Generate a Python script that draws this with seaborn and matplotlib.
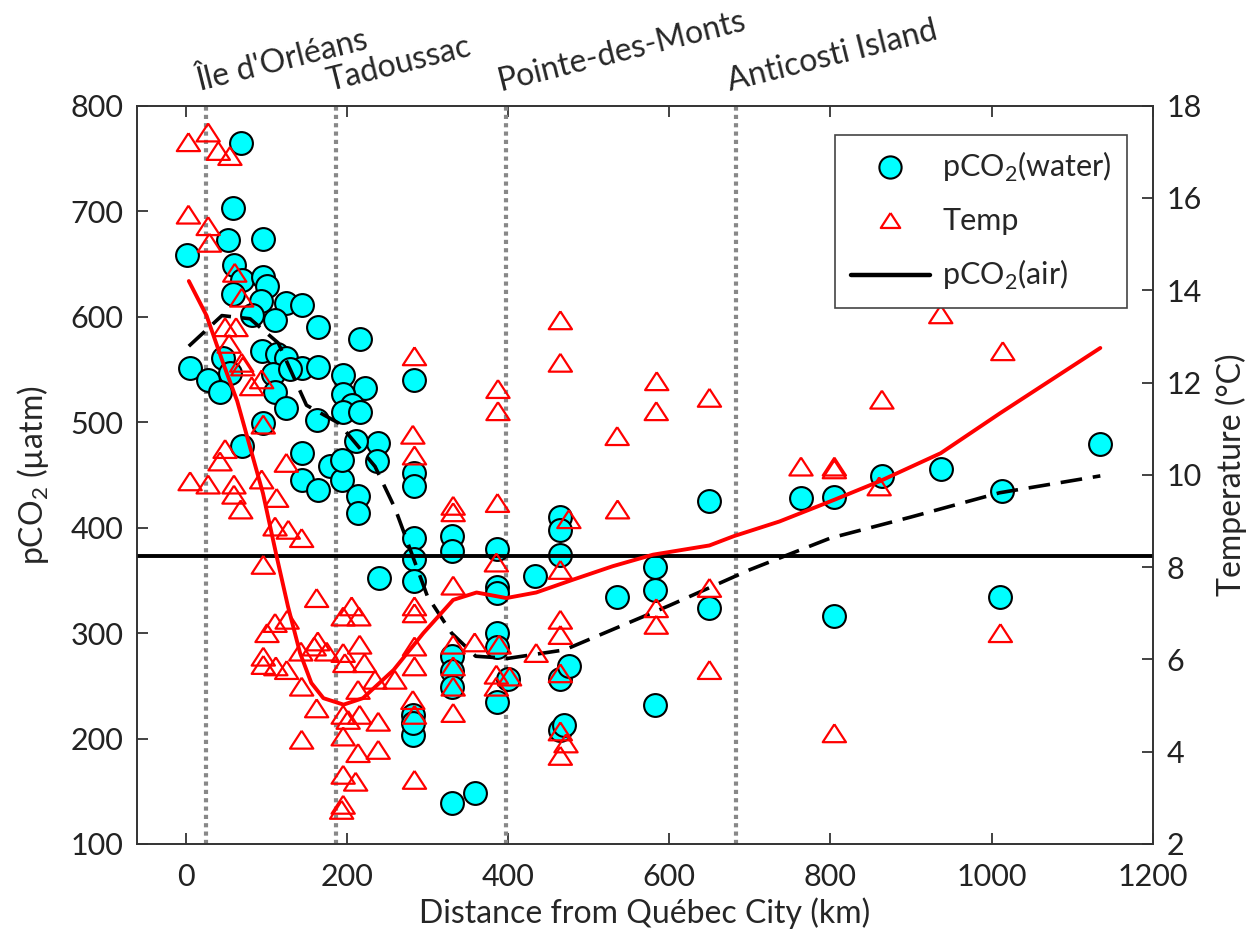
import numpy as np
import pandas as pd
import matplotlib.pyplot as plt
import seaborn as sns
from matplotlib.lines import Line2D

# pCO2 in surface water (circles), distance in km
water_km = [2, 5.6, 69, 59, 53, 96, 60.5, 69.6, 96.4, 100.6, 59, 94, 125, 144, 82, 111,
            164.6, 216, 94.4, 113, 125, 47, 144, 164.6, 109, 129.5, 55, 28, 195.5, 111,
            42.7, 222, 195.5, 206, 125, 162.6, 195.5, 216, 239, 96.4, 69.6, 212, 144, 179,
            237, 144, 164.6, 193.6, 193.6, 214, 214, 284, 284, 284, 284, 284, 284, 240,
            282, 282, 282,
            331, 331, 331, 331, 331, 331, 359, 386, 386, 386, 386, 386, 386, 400, 434,
            465, 465, 465, 465, 476, 465, 470, 535, 583, 583, 583, 650, 649,
            763, 805, 864, 937, 1013, 1135, 805, 1011]
water_pco2 = [658, 551, 765, 703, 673, 674, 649, 635, 638, 629, 621, 615, 613, 611, 602, 597,
              590, 579, 567, 565, 561, 561, 551, 552, 546, 550, 547, 540, 545, 529,
              529, 532, 527, 516, 513, 502, 510, 510, 480, 499, 477, 482, 471, 458,
              463, 445, 436, 445, 464, 430, 414, 540, 452, 439, 390, 370, 349, 352,
              222, 203, 215,
              392, 378, 278, 264, 249, 139, 148, 380, 344, 338, 300, 287, 235, 256, 354,
              410, 398, 374, 256, 269, 208, 213, 334, 363, 341, 232, 425, 324,
              428, 429, 449, 456, 435, 479, 316, 334]

# water temperature (triangles)
temp_km = [3.5, 28, 40.6, 55, 3.5, 28, 29.5, 61, 69.6, 49, 62.6, 54, 69.6, 71, 94.4, 82,
           96.4, 49, 42.7, 284, 282, 284, 125,
           5.6, 28, 60, 60, 68.4, 94.4, 113, 111, 127.4, 144, 96.4, 162.6, 206, 215, 195.5,
           111, 126, 101, 164, 159.6, 143, 175, 216, 195.5, 96.4, 96.4, 112, 125.4, 197.6,
           222, 235, 259.6, 284, 284, 144, 214, 162.6, 282, 195.5, 201.7, 216, 239, 284,
           144, 195.5, 214, 239, 195.5, 211, 284, 195.5, 193.6,
           387.6, 387.6, 465, 465, 584.6, 584, 650, 535.5,
           332, 332, 387, 536, 475.6, 385.6, 465, 332, 284, 284, 465, 465, 584, 584, 650,
           650, 332, 358.7, 389, 435, 332, 332, 385.6, 402, 385.6, 465, 332, 465, 472, 465,
           937, 1014, 864, 763.6, 805, 805, 860.6, 1011, 805]
temp_c = [17.21, 17.42, 17.02, 16.91, 15.64, 15.39, 15.03, 14.38, 13.84, 13.2, 13.2, 12.84,
          12.43, 12.35, 12.07, 11.92, 11.09, 10.56, 10.29, 12.57, 10.87, 10.42, 10.26,
          9.86, 9.79, 9.79, 9.57, 9.25, 9.9, 9.5, 8.88, 8.81, 8.63, 8.05, 7.33, 7.15, 6.93,
          6.93, 6.79, 6.86, 6.57, 6.39, 6.28, 6.17, 6.17, 6.32, 6.14, 6.06, 5.88, 5.85,
          5.77, 5.92, 5.92, 5.56, 5.56, 6.28, 5.85, 5.41, 5.34, 4.94, 5.12, 4.8, 4.69, 4.8,
          4.65, 4.8, 4.26, 4.33, 3.97, 4.04, 3.5, 3.35, 3.39, 2.85, 2.74,
          11.86, 11.38, 13.35, 12.43, 12.03, 11.38, 11.67, 10.84,
          9.33, 9.19, 9.39, 9.25, 9.04, 8.1, 7.94, 7.6, 7.15, 7.0, 6.86, 6.53, 7.11, 6.75,
          7.55, 5.77, 6.32, 6.37, 6.32, 6.14, 5.85, 5.41, 5.67, 5.63, 5.41, 5.7, 4.84, 4.44,
          4.18, 3.91,
          13.48, 12.68, 11.63, 10.18, 10.18, 10.12, 9.75, 6.57, 4.4]

# smoothed pCO2 (dashed) and temperature (red) along the section
pco2_fit_km = [4, 45, 80, 115, 150, 190, 235, 260, 300, 330, 360, 400, 470, 600, 700,
               800, 900, 1010, 1135]
pco2_fit = [572, 601, 598, 575, 516, 499, 458, 418, 335, 300, 278, 276, 284, 326, 360,
            390, 410, 433, 449]
temp_fit_km = [4, 26, 47, 64, 80, 96, 113, 127, 142, 156, 171, 196, 220, 258, 295, 332,
               361, 398, 435, 481, 530, 580, 650, 680, 737, 805, 861, 937, 1011, 1135]
temp_fit = [14.2, 13.45, 12.4, 11.6, 10.6, 9.6, 8.23, 7.15, 6.14, 5.49, 5.16, 5.02, 5.16,
            5.77, 6.57, 7.29, 7.45, 7.33, 7.45, 7.73, 8.02, 8.27, 8.47, 8.67, 8.99, 9.46,
            9.86, 10.47, 11.34, 12.75]

pco2_air = 373
site_km = [25, 186, 398, 683]
site_names = ["Île d'Orléans", "Tadoussac", "Pointe-des-Monts", "Anticosti Island"]

sns.set_style('ticks')
plt.rcParams['font.family'] = ['Lato', 'DejaVu Sans']
plt.rcParams['mathtext.fontset'] = 'custom'
plt.rcParams['mathtext.rm'] = 'Lato'

fig = plt.figure(figsize=(12.58, 9.43), dpi=100)
ax = fig.add_axes([0.1091, 0.105, 0.8072, 0.7829])
ax2 = ax.twinx()

tri = [(0, 1), (-1.3, -1), (1.3, -1), (0, 1)]

for k in site_km:
    ax.axvline(k, color='#888888', lw=3, ls=(0, (1, 1)), zorder=1)

sns.scatterplot(x=water_km, y=water_pco2, ax=ax, s=270, color='#00ffff',
                edgecolor='black', linewidth=1.5, zorder=3, legend=False)
ax.axhline(pco2_air, color='black', lw=2.8, zorder=4)
sns.lineplot(x=pco2_fit_km, y=pco2_fit, ax=ax, color='black', lw=2.6, sort=False,
             estimator=None, zorder=5)
ax.lines[-1].set_dashes((6, 3))

sns.scatterplot(x=temp_km, y=temp_c, ax=ax2, marker=tri, s=280, color='red',
                facecolors='none', edgecolor='red', linewidth=1.6, zorder=3, legend=False)
sns.lineplot(x=temp_fit_km, y=temp_fit, ax=ax2, color='red', lw=2.8, sort=False,
             estimator=None, zorder=4)

ax.set_xlim(-60, 1200)
ax.set_ylim(100, 800)
ax2.set_ylim(2, 18)
ax.set_xticks(range(0, 1201, 200))
ax.set_yticks(range(100, 801, 100))
ax2.set_yticks(range(2, 19, 2))

for a in (ax, ax2):
    for sp in a.spines.values():
        sp.set_color('#333333')
        sp.set_linewidth(1.2)
ax.tick_params(axis='both', direction='in', length=8, width=1.2, labelsize=22,
               colors='#222222', top=True, right=False)
ax.tick_params(axis='x', pad=14)
ax.tick_params(axis='y', pad=10)
ax2.tick_params(axis='y', direction='in', length=8, width=1.2, labelsize=22,
                colors='#222222', pad=10)

ax.set_xlabel('Distance from Québec City (km)', fontsize=23, labelpad=4)
ax.set_ylabel('pCO$_2$ (µatm)', fontsize=23, labelpad=14)
ax2.set_ylabel('Temperature (°C)', fontsize=23, labelpad=10)

for k, name in zip(site_km, site_names):
    ax.text(k - 8, 1.02, name, transform=ax.get_xaxis_transform(), rotation=14,
            rotation_mode='anchor', ha='left', va='baseline', fontsize=23)

handles = [
    Line2D([], [], ls='none', marker='o', ms=16, mfc='#00ffff', mec='black', mew=1.5),
    Line2D([], [], ls='none', marker=tri, ms=14, mfc='none', mec='red', mew=1.6),
    Line2D([], [], color='black', lw=3.2),
]
leg = ax2.legend(handles, ['pCO$_2$(water)', 'Temp', 'pCO$_2$(air)'],
                 loc='upper right', bbox_to_anchor=(0.9747, 0.9603), borderaxespad=0,
                 fontsize=22, frameon=True, fancybox=False, framealpha=1,
                 handlelength=2.6, labelspacing=0.75, borderpad=0.5, handletextpad=0.4)
leg.get_frame().set_edgecolor('#444444')
leg.get_frame().set_linewidth(1.2)

fig.savefig('out.png', dpi=100)
